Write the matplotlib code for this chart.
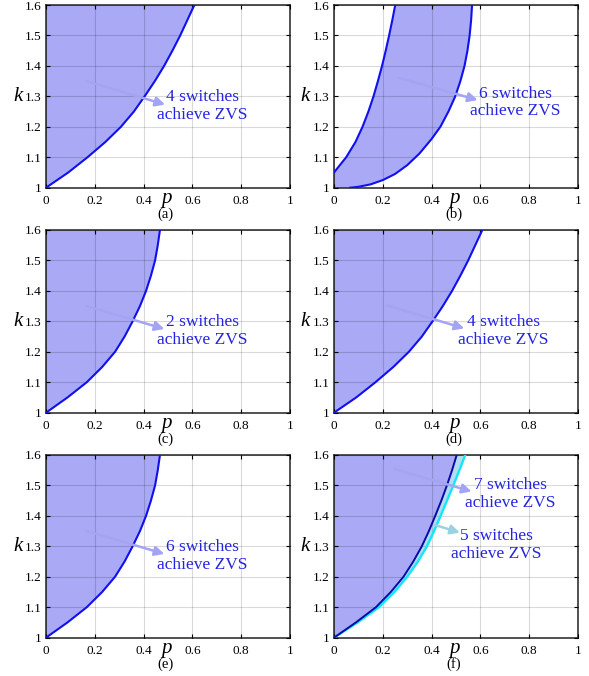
import numpy as np
import matplotlib.pyplot as plt

plt.rcParams['font.family'] = ['Liberation Serif', 'DejaVu Serif']

# ZVS boundary curves: p value at each k
k_grid = [1.0, 1.05, 1.10, 1.15, 1.20, 1.25, 1.30, 1.35, 1.40, 1.45, 1.50, 1.55, 1.60]

# 4 switches, panels (a) and (d)
p_4sw = [0, 0.091, 0.17, 0.243, 0.307, 0.36, 0.404, 0.446, 0.484, 0.518, 0.55, 0.579, 0.608]
# 2 switches / 6 switches, panels (c) and (e)
p_2sw = [0, 0.088, 0.167, 0.23, 0.283, 0.322, 0.355, 0.385, 0.41, 0.43, 0.447, 0.458, 0.467]
# panel (f): 7 switches (dark line) and 5 switches (cyan line)
p_7sw = [0, 0.09, 0.172, 0.233, 0.285, 0.325, 0.36, 0.389, 0.415, 0.44, 0.463, 0.484, 0.503]
p_5sw = [0, 0.097, 0.184, 0.248, 0.30, 0.344, 0.381, 0.41, 0.437, 0.463, 0.489, 0.514, 0.538]

# panel (b): the 6-switch band between two boundaries
k_b_left = [1.05, 1.10, 1.15, 1.20, 1.25, 1.30, 1.35, 1.40, 1.45, 1.50, 1.55, 1.60]
p_b_left = [0, 0.05, 0.088, 0.117, 0.141, 0.162, 0.18, 0.197, 0.212, 0.226, 0.239, 0.251]
p_b_right = [0.066, 0.10, 0.15, 0.20, 0.25, 0.30, 0.35, 0.40, 0.436, 0.469, 0.497, 0.518,
             0.535, 0.547, 0.556, 0.562, 0.566]
k_b_right = [1.0, 1.003, 1.011, 1.025, 1.045, 1.074, 1.112, 1.16, 1.20, 1.25, 1.30, 1.35,
             1.40, 1.45, 1.50, 1.55, 1.60]

x_ticks = [0, 0.2, 0.4, 0.6, 0.8, 1]
x_labels = ['0', '0.2', '0.4', '0.6', '0.8', '1']
y_ticks = [1, 1.1, 1.2, 1.3, 1.4, 1.5, 1.6]
y_labels = ['1', '1.1', '1.2', '1.3', '1.4', '1.5', '1.6']

fill_col = '#a9a9f5'
line_col = '#1010ee'
arrow_col = '#a4a4f4'
text_col = '#2424e0'

fig = plt.figure(figsize=(5.89, 6.76), dpi=100)
lefts = [0.0781, 0.567]
bottoms = [0.7223, 0.3895, 0.0567]
w, h = 0.4143, 0.2703


def setup(ax, letter, kx):
    ax.set_xlim(0, 1)
    ax.set_ylim(1, 1.6)
    ax.set_xticks(x_ticks)
    ax.set_xticklabels(x_labels)
    ax.set_yticks(y_ticks)
    ax.set_yticklabels(y_labels)
    ax.tick_params(direction='in', length=3, width=0.8, labelsize=9.5,
                   top=True, right=True, pad=5)
    ax.tick_params(axis='y', pad=3)
    ax.grid(True, color='k', alpha=0.15, lw=0.8)
    ax.set_axisbelow(False)
    for s in ax.spines.values():
        s.set_color('#222222')
        s.set_linewidth(1.1)
    ax.text(kx, 0.5, 'k', transform=ax.transAxes, fontsize=15, style='italic',
            ha='center', va='center')
    ax.text(0.493, -0.085, 'p', transform=ax.transAxes, fontsize=15, style='italic',
            ha='center', va='baseline')
    ax.text(0.49, -0.145, '(' + letter + ')', transform=ax.transAxes, fontsize=10.5,
            ha='center', va='center')


def label(ax, tail, head, txt, pos, acol=arrow_col):
    ax.annotate('', xy=head, xytext=tail,
                arrowprops=dict(arrowstyle='-|>', color=acol, lw=1.8,
                                mutation_scale=14, shrinkA=0, shrinkB=0))
    ax.text(pos[0], pos[1], txt, color=text_col, fontsize=12.5,
            ha='center', va='center', linespacing=1.15)


axs = {}
letters = ['a', 'b', 'c', 'd', 'e', 'f']
for i, letter in enumerate(letters):
    r, c = divmod(i, 2)
    axs[letter] = fig.add_axes([lefts[c], bottoms[r], w, h])
    setup(axs[letter], letter, -0.113 if c == 0 else -0.12)

# (a) and (d): 4 switches
for letter in ['a', 'd']:
    ax = axs[letter]
    ax.fill(np.r_[p_4sw, 0], np.r_[k_grid, 1.6], color=fill_col, lw=0, zorder=1)
    ax.plot(p_4sw, k_grid, color=line_col, lw=1.5, zorder=3)
label(axs['a'], (0.167, 1.35), (0.488, 1.273), '4 switches\nachieve ZVS', (0.64, 1.268))
label(axs['d'], (0.218, 1.352), (0.534, 1.277), '4 switches\nachieve ZVS', (0.695, 1.268))

# (c) and (e)
for letter in ['c', 'e']:
    ax = axs[letter]
    ax.fill(np.r_[p_2sw, 0], np.r_[k_grid, 1.6], color=fill_col, lw=0, zorder=1)
    ax.plot(p_2sw, k_grid, color=line_col, lw=1.5, zorder=3)
label(axs['c'], (0.167, 1.35), (0.485, 1.275), '2 switches\nachieve ZVS', (0.64, 1.268))
label(axs['e'], (0.167, 1.35), (0.485, 1.275), '6 switches\nachieve ZVS', (0.64, 1.268))

# (b): band between two boundaries
ax = axs['b']
ax.fill(np.r_[0, p_b_left, p_b_right[::-1]], np.r_[1.0, k_b_left, k_b_right[::-1]],
        color=fill_col, lw=0, zorder=1)
ax.plot(p_b_left, k_b_left, color=line_col, lw=1.5, zorder=3)
ax.plot(p_b_right, k_b_right, color=line_col, lw=1.5, zorder=3)
label(ax, (0.266, 1.361), (0.589, 1.288), '6 switches\nachieve ZVS', (0.742, 1.28))

# (f): 7 and 5 switches
ax = axs['f']
ax.fill(np.r_[p_7sw, 0], np.r_[k_grid, 1.6], color=fill_col, lw=0, zorder=1)
ax.fill(np.r_[p_5sw, p_7sw[::-1]], np.r_[k_grid, k_grid[::-1]],
        color='#b4dcf0', lw=0, zorder=1)
ax.plot(p_5sw, k_grid, color='#10e8f8', lw=1.7, zorder=3)
ax.plot(p_7sw, k_grid, color='#0a0aa8', lw=1.4, zorder=3)
label(ax, (0.247, 1.554), (0.564, 1.48), '7 switches\nachieve ZVS', (0.722, 1.472))
label(ax, (0.414, 1.37), (0.516, 1.345), '5 switches\nachieve ZVS', (0.667, 1.303),
      acol='#9ad2e2')

fig.savefig('out.png', dpi=100)
